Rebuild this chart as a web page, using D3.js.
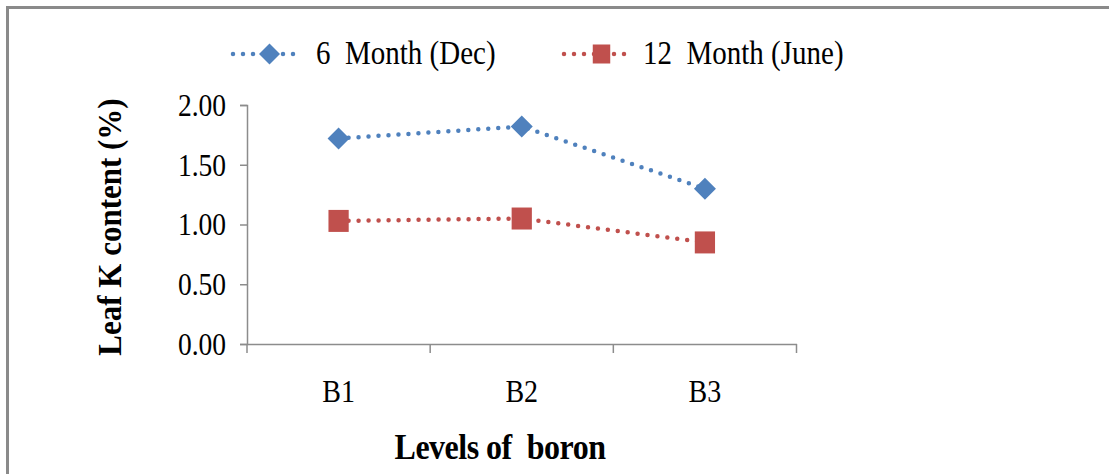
<!DOCTYPE html>
<html><head><meta charset="utf-8">
<script src="https://cdn.jsdelivr.net/npm/d3@7"></script>
<style>body{margin:0;background:#fff}svg{display:block}text{font-family:"Liberation Serif","Times New Roman",serif;white-space:pre}</style>
</head><body><svg id="c" width="1109" height="474"></svg>
<script>
const categories = ["B1","B2","B3"];
const seriesNames = ["6  Month (Dec)","12  Month (June)"];
const dec = [1.72, 1.82, 1.30];
const june = [1.03, 1.05, 0.85];
const yTicks = [0, 0.5, 1.0, 1.5, 2.0];
const colors = ["#4F81BD","#C0504D"];
const SY = 1.15;

const svg = d3.select("#c");
svg.append("path").attr("d","M7.5,474V7.5H1109").attr("fill","none").attr("stroke","#8a8a8a").attr("stroke-width",3);

const x = d3.scaleBand().domain(categories).range([247, 796.5]);
const y = d3.scaleLinear().domain([0, 2]).range([344, 105]);
const axisColor = "#8c8c8c";

const ya = svg.append("g").attr("transform","translate(247,0)")
  .call(d3.axisLeft(y).tickValues(yTicks).tickSize(7).tickPadding(14).tickFormat(d3.format(".2f")));
ya.select(".domain").attr("stroke",axisColor).attr("stroke-width",1.5);
ya.selectAll(".tick line").attr("stroke",axisColor).attr("stroke-width",1.5);
ya.selectAll(".tick text").attr("font-size",27.5).attr("fill","#000").attr("font-family","Liberation Serif")
  .attr("dy","0.33em").attr("transform",`scale(1,${SY})`);

const xa = svg.append("g").attr("transform","translate(0,344)")
  .call(d3.axisBottom(x).tickSize(0).tickPadding(0));
xa.select(".domain").attr("stroke",axisColor).attr("stroke-width",1.5);
xa.selectAll(".tick text").attr("font-size",28).attr("fill","#000").attr("font-family","Liberation Serif")
  .attr("y",0).attr("dy",0).attr("transform",`translate(0,58) scale(1,${SY})`);
const bounds = categories.map(c => x(c)).concat([x.range()[1]]);
xa.selectAll(".bt").data(bounds).join("line").attr("class","bt")
  .attr("x1",d=>d).attr("x2",d=>d).attr("y1",0).attr("y2",9)
  .attr("stroke",axisColor).attr("stroke-width",1.5);

svg.append("text").attr("transform","translate(121,227) rotate(-90) scale(1.0,1.12)").attr("text-anchor","middle")
  .attr("font-size",31).attr("font-weight","bold").text("Leaf K content (%)");
svg.append("text").attr("transform",`translate(500,459) scale(1,${SY})`).attr("text-anchor","middle")
  .attr("font-size",32).attr("font-weight","bold").attr("letter-spacing","-0.5").text("Levels of  boron");

const cx = c => x(c) + x.bandwidth()/2;
const line = d3.line().x((d,i)=>cx(categories[i])).y(d=>y(d));
const data = [dec, june];
data.forEach((vals,si)=>{
  svg.append("path").datum(vals).attr("d",line).attr("fill","none")
    .attr("stroke",colors[si]).attr("stroke-width",4.5).attr("stroke-linecap","round").attr("stroke-dasharray","0 10");
});
function marker(g, si, px, py, s){
  if(si===0){
    g.append("path").attr("d",`M${px},${py-s}L${px+s},${py}L${px},${py+s}L${px-s},${py}Z`).attr("fill",colors[0]);
  } else {
    g.append("rect").attr("x",px-s*0.92).attr("y",py-s).attr("width",s*1.84).attr("height",s*2).attr("fill",colors[1]);
  }
}
data.forEach((vals,si)=>{
  vals.forEach((v,i)=>marker(svg, si, cx(categories[i]), y(v), 11));
});

const leg = [{x0:233,x1:298,tx:316},{x0:564,x1:629,tx:643}];
leg.forEach((l,si)=>{
  const ly = 54;
  svg.append("line").attr("x1",l.x0).attr("x2",l.x1).attr("y1",ly).attr("y2",ly)
    .attr("stroke",colors[si]).attr("stroke-width",4.5).attr("stroke-linecap","round").attr("stroke-dasharray","0 10");
  marker(svg, si, (l.x0+l.x1)/2 + (si===0?4:5), ly, si===0?10.5:9.5);
  svg.append("text").attr("transform",`translate(${l.tx},${ly+10}) scale(1,${SY})`).attr("font-size",29).attr("fill","#000").text(seriesNames[si]);
});
</script></body></html>
